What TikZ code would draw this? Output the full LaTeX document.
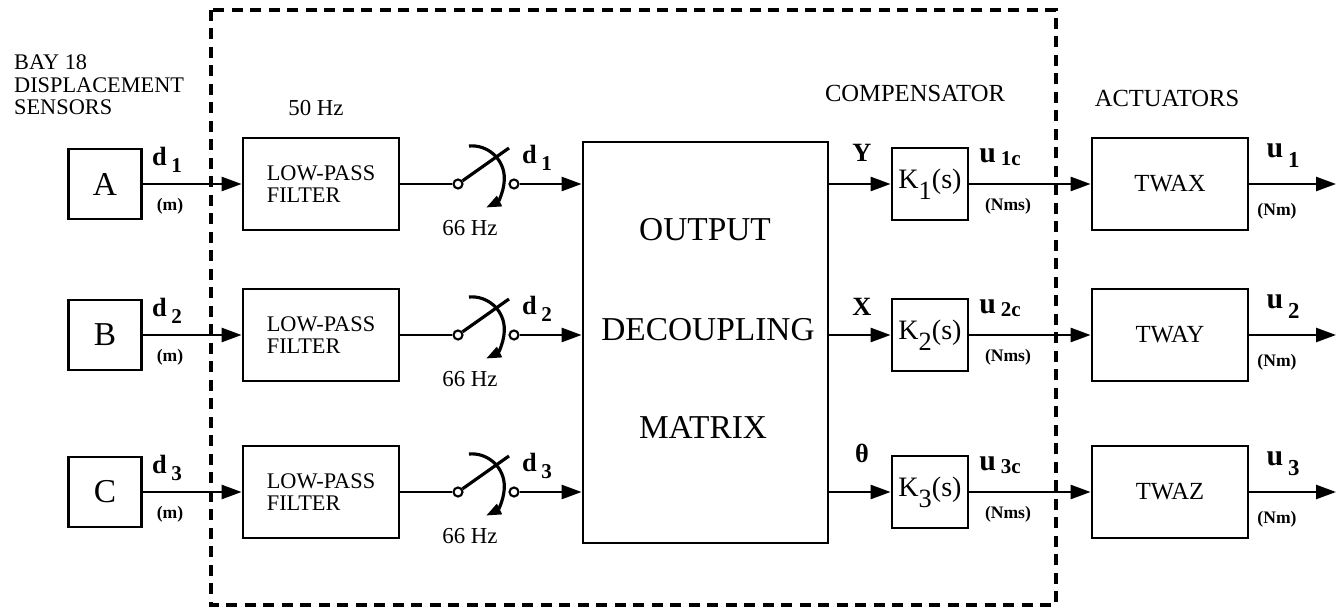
\documentclass[tikz,border=0pt]{standalone}
\usepackage{fontspec}
\setmainfont{Liberation Serif}
\usetikzlibrary{arrows.meta}
\newcommand{\fsz}[1]{\fontsize{#1}{#1}\selectfont}
\tikzset{
  blk/.style={draw, line width=1.6pt, inner sep=0pt},
  sensorbox/.style={blk, minimum width=1.46cm, minimum height=1.4cm, font=\fsz{19}},
  filterbox/.style={blk, minimum width=3.12cm, minimum height=1.84cm, align=left, font=\fontsize{12.7}{12.8}\selectfont},
  matrixbox/.style={blk, minimum width=4.9cm, minimum height=8.02cm},
  compbox/.style={blk, minimum width=1.52cm, minimum height=1.44cm, font=\fsz{16}},
  actbox/.style={blk, minimum width=3.12cm, minimum height=1.84cm, font=\fsz{14}},
  terminal/.style={circle, draw, fill=white, line width=1.2pt, inner sep=0pt, minimum size=0.18cm},
  wire/.style={line width=1.5pt},
  sig/.style={wire, -{Triangle[length=0.4cm,width=0.28cm]}},
  swarrow/.style={line width=1.8pt, -{Triangle[length=0.3cm,width=0.22cm]}},
  dlabel/.style={font=\bfseries\fsz{15}},
  ulabel/.style={font=\bfseries\fsz{17}},
  unitlabel/.style={font=\bfseries\fsz{10}},
  headlabel/.style={font=\fsz{14}},
  freqlabel/.style={font=\fsz{13}},
  dashbox/.style={line width=1.9pt, dash pattern=on 0.22cm off 0.15cm},
}
% one sensor channel: #1 row y, #2 index, #3 sensor
\newcommand{\inputrow}[3]{%
  \node[sensorbox] (sens#2) at (105,#1) {#3};
  \node[filterbox] (lpf#2) at (321,#1) {LOW-PASS\\FILTER};
  \node[terminal] (swa#2) at (458,#1) {};
  \node[terminal] (swb#2) at (514,#1) {};
  \coordinate (blade#2) at (509,{#1-36});
  \node[dlabel] (din#2) at (167,{#1-24}) {d\,\raisebox{-0.15cm}{\fsz{12}#2}};
  \node[unitlabel] (dunit#2) at (170,{#1+22}) {(m)};
  \node[dlabel] (dout#2) at (537,{#1-26}) {d\,\raisebox{-0.15cm}{\fsz{12}#2}};
  \node[freqlabel] (samp#2) at (470,{#1+44}) {66 Hz};
  \draw[sig] (sens#2) -- (lpf#2);
  \draw[wire] (lpf#2) -- (swa#2);
  \draw[line width=1.8pt] (swa#2) -- (blade#2);
  \draw[swarrow] (469,{#1-38}) arc[start angle=95, end angle=-64, radius=0.65cm];
  \draw[sig] (swb#2) -- (swb#2 -| mtx.west);
}
% one control channel: #1 row y, #2 index, #3 signal, #4 label offset, #5 actuator
\newcommand{\outputrow}[5]{%
  \node[compbox] (comp#2) at (930,#1) {K\raisebox{-0.22cm}{\fsz{15}#2}(s)};
  \node[actbox] (act#2) at (1170,#1) {#5};
  \coordinate (out#2) at (1336,#1);
  \node[dlabel] (sig#2) at (862,{#1#4}) {#3};
  \node[ulabel] (uc#2) at (1000,{#1-27}) {u\,\raisebox{-0.06cm}{\fsz{12}#2c}};
  \node[unitlabel] (ucunit#2) at (1008,{#1+22}) {(Nms)};
  \node[ulabel] (u#2) at (1283,{#1-28}) {u\,\raisebox{-0.2cm}{\fsz{13}#2}};
  \node[unitlabel] (uunit#2) at (1277,{#1+27}) {(Nm)};
  \draw[sig] (mtx.east |- comp#2) -- (comp#2);
  \draw[sig] (comp#2) -- (act#2);
  \draw[sig] (act#2) -- (out#2);
}

\begin{document}
\begin{tikzpicture}[x=0.02cm, y=-0.02cm]
  \useasboundingbox (0,0) rectangle (1340,611);

  \draw[dashbox] (211,10) rectangle (1056,605);

  \node[anchor=west, align=left, font=\fontsize{12.7}{12.8}\selectfont] (bayhead) at (8,85) {BAY 18\\DISPLACEMENT\\SENSORS};
  \node[freqlabel] (lpfhead) at (316,108) {50 Hz};
  \node[headlabel] (comphead) at (915,93) {COMPENSATOR};
  \node[headlabel] (acthead) at (1167,98) {ACTUATORS};

  \node[matrixbox] (mtx) at (705.5,342.5) {};
  \node[font=\fsz{19}] (mtxa) at (705,230) {OUTPUT};
  \node[font=\fsz{19}] (mtxb) at (708,330) {DECOUPLING};
  \node[font=\fsz{19}] (mtxc) at (703,427) {MATRIX};

  \inputrow{184}{1}{A}
  \inputrow{335}{2}{B}
  \inputrow{492}{3}{C}

  \outputrow{184}{1}{Y}{-31}{TWAX}
  \outputrow{335}{2}{X}{-28}{TWAY}
  \outputrow{492}{3}{θ}{-39}{TWAZ}

\end{tikzpicture}
\end{document}
